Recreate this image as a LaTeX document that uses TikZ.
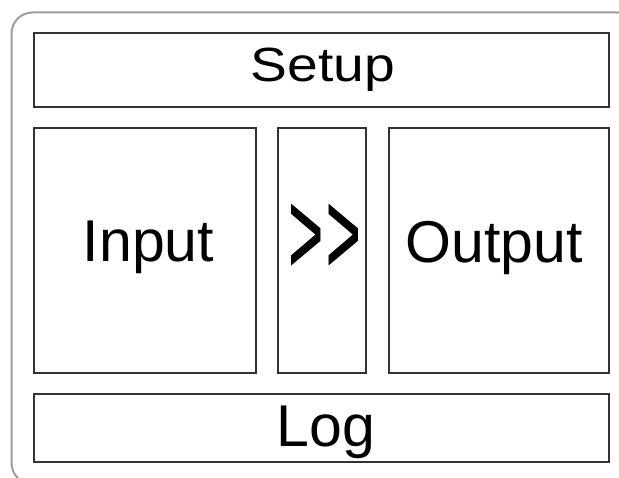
\documentclass[tikz,border=0pt]{standalone}
\usepackage{fontspec}
\setmainfont{Liberation Sans}
\newfontfamily\chevronfont[FakeBold=1]{Liberation Sans}
\begin{document}
\begin{tikzpicture}[x=1pt,y=-1pt,
  frame/.style={draw=black!38, line width=2pt, rounded corners=21pt},
  panel/.style={draw=black!80, line width=2pt, inner sep=0pt},
  lbl/.style={font=\fontsize{59}{59}\selectfont, anchor=base, inner sep=0pt},
  smalllbl/.style={font=\fontsize{48}{48}\selectfont, anchor=base, inner sep=0pt, xscale=1.15},
  arrowlbl/.style={font=\chevronfont\fontsize{118}{118}\selectfont, inner sep=0pt, xscale=0.5}]
\useasboundingbox (0,0) rectangle (619,478);
\clip (0,0) rectangle (619,478);
% outer window frame, running off the right and bottom edges
\draw[frame] (11.5,12.5) rectangle (638,484);
% panels
\node[panel, minimum width=575pt, minimum height=74pt] (setup) at (321.3,69.8) {};
\node[panel, minimum width=222pt, minimum height=245.5pt] (input) at (144.8,250.7) {};
\node[panel, minimum width=87.5pt, minimum height=245.5pt] (pipe) at (322.2,250.7) {};
\node[panel, minimum width=220pt, minimum height=245.5pt] (output) at (499,250.7) {};
\node[panel, minimum width=575pt, minimum height=67pt] (log) at (321.5,428) {};
% captions
\node[smalllbl] (setuptext) at (323,81.7) {Setup};
\node[lbl] (inputtext) at (148.5,261.7) {Input};
\node[arrowlbl] (pipetext) at (324.5,239) {\textgreater\kern6pt\textgreater};
\node[lbl] (outputtext) at (494,263) {Output};
\node[lbl] (logtext) at (326,446.7) {Log};
\end{tikzpicture}
\end{document}
